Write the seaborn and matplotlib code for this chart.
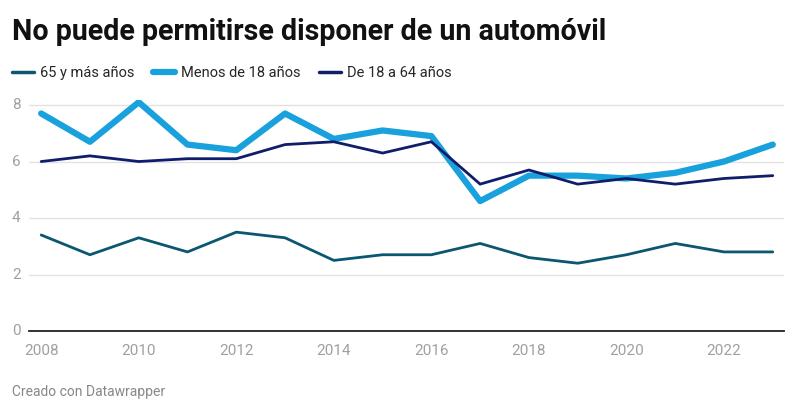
import pandas as pd
import numpy as np
import matplotlib.pyplot as plt
import seaborn as sns

sns.set_style('white')
plt.rcParams['font.family'] = ['Roboto', 'DejaVu Sans']

# Datos (lectura aproximada del gráfico)
anios = list(range(2008, 2024))
mayores_65 = [3.4, 2.7, 3.3, 2.8, 3.5, 3.3, 2.5, 2.7, 2.7, 3.1, 2.6, 2.4, 2.7, 3.1, 2.8, 2.8]
menos_18 = [7.7, 6.7, 8.1, 6.6, 6.4, 7.7, 6.8, 7.1, 6.9, 4.6, 5.5, 5.5, 5.4, 5.6, 6.0, 6.6]
de_18_64 = [6.0, 6.2, 6.0, 6.1, 6.1, 6.6, 6.7, 6.3, 6.7, 5.2, 5.7, 5.2, 5.4, 5.2, 5.4, 5.5]

series = ['65 y más años', 'Menos de 18 años', 'De 18 a 64 años']
colores = ['#0b5670', '#18a1dc', '#0f1d6b']
grosores = [2.0, 4.5, 2.0]

df = pd.DataFrame({'Año': anios, series[0]: mayores_65,
                   series[1]: menos_18, series[2]: de_18_64})
largo = df.melt(id_vars='Año', var_name='Grupo', value_name='Valor')

fig = plt.figure(figsize=(8, 4.13), dpi=100)
ax = fig.add_axes([0.03625, 0.1985, 0.98 - 0.03625, 0.758 - 0.1985])

for nombre, color, lw in zip(series, colores, grosores):
    sns.lineplot(data=largo[largo['Grupo'] == nombre], x='Año', y='Valor',
                 color=color, linewidth=lw, ax=ax, label=nombre,
                 solid_joinstyle='round', solid_capstyle='round')

ax.set_xlim(2007.75, 2023.23)
ax.set_ylim(0, 8.18)
ax.set_xticks(range(2008, 2024, 2))
ax.set_yticks([0, 2, 4, 6, 8])
ax.set_xlabel('')
ax.set_ylabel('')
ax.grid(axis='y', color='#e2e2e2', linewidth=1)
ax.set_axisbelow(True)
for s in ['top', 'right', 'left']:
    ax.spines[s].set_visible(False)
ax.spines['bottom'].set_color('#222222')
ax.spines['bottom'].set_linewidth(1.3)
ax.tick_params(axis='both', length=0, labelsize=11, labelcolor='#a0a0a0')
ax.tick_params(axis='y', pad=6)
ax.tick_params(axis='x', pad=9)
for t in ax.get_yticklabels():
    t.set_verticalalignment('center')

ley = ax.legend(loc='lower left', bbox_to_anchor=(12 / 800, 1 - 80 / 413),
                bbox_transform=fig.transFigure, ncol=3, frameon=False,
                fontsize=10.5, handlelength=1.5, handletextpad=0.4,
                columnspacing=1.3, borderaxespad=0, borderpad=0)
for linea, lw in zip(ley.get_lines(), [2.5, 4.5, 2.5]):
    linea.set_linewidth(lw)
    linea.set_solid_capstyle('round')

fig.text(12 / 800, 1 - 39.5 / 413, 'No puede permitirse disponer de un automóvil',
         fontsize=20.6, fontweight='bold', color='#111111', ha='left', va='baseline')
fig.text(12 / 800, 1 - 396 / 413, 'Creado con Datawrapper',
         fontsize=10, color='#888888', ha='left', va='baseline')

fig.savefig('out.png', dpi=100)
